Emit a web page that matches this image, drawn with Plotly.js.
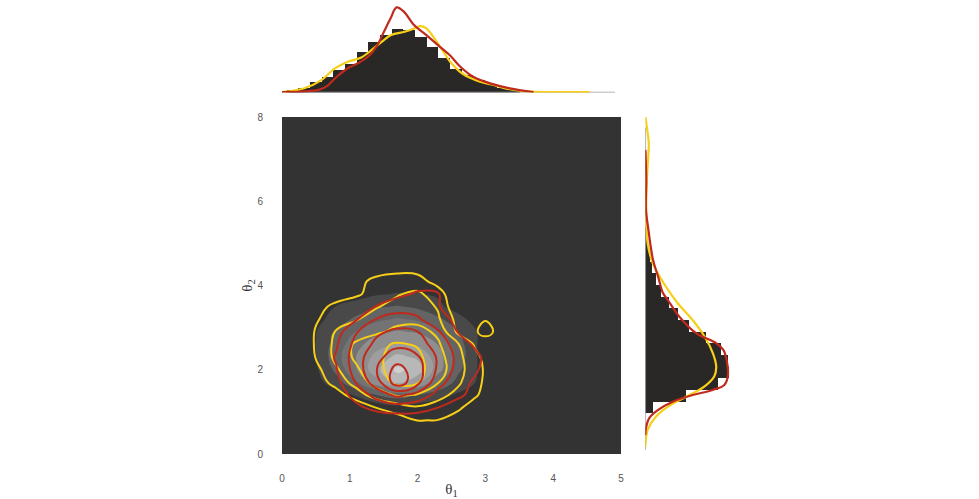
<!DOCTYPE html>
<html>
<head>
<meta charset="utf-8">
<script src="https://cdn.plot.ly/plotly-3.0.1.min.js"></script>
<style>html,body{margin:0;padding:0;background:#fff;}#chart{width:979px;height:499px;}</style>
</head>
<body>
<div id="chart"></div>
<script>
// ---------- data ----------
const xTicks = [0, 1, 2, 3, 4, 5];
const yTicks = [0, 2, 4, 6, 8];

// density grid (theta1 along x, theta2 along y)
const gridX = [0.2, 0.5, 0.8, 1.1, 1.4, 1.7, 2.0, 2.3, 2.6, 2.9, 3.2];
const gridY = [0.5, 0.8, 1.1, 1.4, 1.7, 2.0, 2.3, 2.6, 2.9, 3.2, 3.5, 3.8, 4.1, 4.4, 4.7];
const yellowGridX = [0.2, 0.5, 0.8, 1.1, 1.4, 1.7, 2.0, 2.3, 2.6, 2.85, 3.0, 3.15, 3.4];

// grey filled density (levels 1..7)
const greyZ = [
  [0,0,0,0,0,0,0,0,0,0,0],
  [0,0,0,0,0,0.1,0.05,0,0,0,0],
  [0,0,0,0.13,0.4,0.65,0.5,0.35,0.2,0,0],
  [0,0,0.45,1.12,2.02,2.47,2.0,1.4,0.85,0.2,0],
  [0,0.6,1.56,2.89,4.6,6.26,5.31,3.0,1.63,0.87,0],
  [0,0.83,2.25,3.95,5.75,7.25,6.52,4.47,2.21,0.9,0],
  [0,0.98,2.62,4.05,5.38,6.25,5.83,4.47,2.61,0.9,0],
  [0,1.03,2.45,3.68,4.59,5.14,4.86,3.98,2.44,0.9,0],
  [0,0.97,2.04,3.07,3.72,4.11,3.88,3.13,2.0,0.9,0],
  [0,0.63,1.49,2.21,2.79,3.09,2.85,2.21,1.39,0.43,0],
  [0,0.07,1.03,1.44,1.85,2.07,1.80,1.27,0.5,0,0],
  [0,0,0.3,0.55,0.9,1.05,1.05,0.85,0.3,0,0],
  [0,0,0,0.1,0.3,0.4,0.4,0.3,0,0,0],
  [0,0,0,0,0,0,0,0,0,0,0],
  [0,0,0,0,0,0,0,0,0,0,0]
];

// red density contours (levels 1..5)
const redZ = [
  [0,0,0,0,0,0,0,0,0,0,0],
  [0,0,0,0.05,0.3,0.45,0.45,0.3,0.05,0,0],
  [0,0,0.2,0.8,1.3,1.48,1.38,1.0,0.45,0,0],
  [0,0,0.5,1.34,2.39,3.25,2.61,1.68,1.21,0.53,0],
  [0,0,0.68,2.09,3.59,5.6,4.29,2.33,1.45,0.70,0],
  [0,0.11,0.93,2.50,4.0,5.4,4.43,2.82,1.67,1.0,0.06],
  [0,0.23,1.10,2.57,3.76,4.49,4.12,2.88,1.74,1.10,0.18],
  [0,0.13,0.88,2.37,3.24,3.80,3.41,2.61,1.52,0.70,0],
  [0,0,0.57,1.95,2.83,3.22,3.02,2.11,0.94,0.31,0],
  [0,0,0.23,0.93,2.06,2.41,2.12,1.44,0.71,0.1,0],
  [0,0,0.1,0.55,1.05,1.55,1.6,1.05,0.55,0.15,0],
  [0,0,0,0,0.3,0.75,1.12,1.05,0.4,0,0],
  [0,0,0,0,0,0.3,0.55,0.5,0.1,0,0],
  [0,0,0,0,0,0,0.1,0.1,0,0,0],
  [0,0,0,0,0,0,0,0,0,0,0]
];

// yellow density contours (levels 1..4)
const yellowZ = [
  [0,0,0,0,0,0.1,0.3,0.3,0.1,0,0,0,0],
  [0,0,0,0,0.15,0.55,1.02,0.98,0.6,0.15,0.05,0,0],
  [0,0,0,0.26,1.03,1.46,1.89,1.58,1.14,0.57,0.14,0,0],
  [0,0,0.53,1.55,2.5,3.15,2.9,2.33,1.7,1.12,0.71,0.29,0],
  [0,0.43,1.4,2.41,3.44,4.25,4.1,3.05,2.15,1.31,0.83,0.42,0],
  [0,0.69,1.86,2.84,3.83,4.31,4.29,3.47,2.35,1.43,0.86,0.43,0],
  [0.1,1.05,2.26,3.22,3.87,4.26,4.21,3.37,2.28,1.27,0.74,0.29,0],
  [0.1,1.1,2.26,3.19,3.77,4.12,3.92,3.13,2.07,0.85,0.45,0.2,0],
  [0.1,1.08,2.09,2.46,2.83,3.26,3.32,2.83,0.75,0.9,1.3,0.9,0],
  [0.05,0.91,1.45,1.95,2.33,2.69,2.74,2.16,0.6,0.6,0.95,0.6,0],
  [0,0.69,1.23,1.59,1.95,2.26,2.56,1.9,0.1,0,0.05,0,0],
  [0,0.35,0.55,0.85,1.4,1.93,2.19,1.5,0,0,0,0,0],
  [0,0,0.2,0.75,1.25,1.4,1.4,0.6,0,0,0,0,0],
  [0,0,0,0.3,0.6,0.75,0.65,0.2,0,0,0,0,0],
  [0,0,0,0,0.1,0.2,0.1,0,0,0,0,0,0]
];

// top marginal: histogram of theta1 (left bin edges, density)
const topBinLeft = [0.07,0.242,0.414,0.586,0.758,0.93,1.102,1.274,1.446,1.618,1.79,1.962,2.134,2.306,2.478,2.65,2.822,2.994,3.166,3.338];
const topBinDensity = [0.03,0.05,0.11,0.16,0.23,0.29,0.42,0.52,0.59,0.65,0.64,0.57,0.47,0.35,0.24,0.18,0.13,0.09,0.05,0.03];
const topBinWidth = 0.172;

// top marginal KDE curves
const redTopX = [0.0,0.35,0.55,0.65,0.82,0.97,1.12,1.27,1.40,1.50,1.60,1.69,1.80,1.94,2.13,2.33,2.48,2.63,2.82,3.07,3.36,3.71];
const redTopY = [0.005,0.012,0.03,0.06,0.17,0.25,0.30,0.37,0.48,0.62,0.76,0.875,0.83,0.70,0.59,0.47,0.38,0.265,0.162,0.094,0.043,0.005];
const yellowTopX = [0.0,0.33,0.58,0.78,0.97,1.17,1.32,1.47,1.61,1.81,1.96,2.04,2.13,2.23,2.38,2.48,2.67,2.92,3.12,3.36,3.66,4.0,4.54];
const yellowTopY = [0.003,0.043,0.128,0.248,0.317,0.36,0.437,0.522,0.591,0.625,0.66,0.683,0.66,0.574,0.42,0.317,0.19,0.111,0.077,0.033,0.008,0.004,0.003];
const greyTopX = [0.0, 4.91];
const greyTopY = [0, 0];

// right marginal: histogram of theta2 (lower bin edges, density)
const rightBinBottom = [0.967,1.244,1.521,1.798,2.075,2.352,2.629,2.906,3.183,3.46,3.737,4.014,4.291,4.568,4.845,5.122];
const rightBinDensity = [0.047,0.258,0.459,0.533,0.523,0.48,0.385,0.279,0.206,0.152,0.1,0.068,0.044,0.032,0.019,0.013];
const rightBinWidth = 0.277;

// right marginal KDE curves
const redRightY = [0.45,0.61,0.85,1.04,1.24,1.40,1.52,1.64,1.84,2.23,2.47,2.63,2.87,3.26,3.66,3.82,4.21,4.61,5.40,5.80,6.5,7.22];
const redRightX = [0.0,0.004,0.025,0.079,0.174,0.301,0.428,0.501,0.523,0.516,0.495,0.449,0.322,0.216,0.142,0.112,0.081,0.049,0.017,0.004,0.006,0.001];
const yellowRightY = [0.17,0.57,0.89,1.12,1.36,1.60,1.84,2.07,2.39,2.79,3.18,3.58,3.97,4.37,4.53,5.0,5.8,6.59,7.38,7.7,8.01];
const yellowRightX = [0.0,0.015,0.068,0.142,0.258,0.374,0.437,0.45,0.429,0.376,0.30,0.206,0.131,0.068,0.047,0.015,0.006,0.011,0.022,0.012,0.0];
const greyRightY = [0.1, 7.75];
const greyRightX = [0, 0];

// ---------- style ----------
const RED = '#bf2a1d';
const YELLOW = '#f6cf16';
const HIST = '#2a2727';
const BG = '#333333';
const GREYLINE = '#9a9a9a';

const greyScale = [
  [0, BG], [0.1428, BG],
  [0.1429, '#5a5a5a'], [0.2856, '#5a5a5a'],
  [0.2858, '#6c6c6c'], [0.4285, '#6c6c6c'],
  [0.4287, '#808080'], [0.5713, '#808080'],
  [0.5715, '#959595'], [0.7142, '#959595'],
  [0.7144, '#aaaaaa'], [0.8570, '#aaaaaa'],
  [0.8572, '#bebebe'], [1, '#d0d0d0']
];

const traces = [
  {type:'contour', x:gridX, y:gridY, z:greyZ, xaxis:'x', yaxis:'y',
   contours:{coloring:'fill', start:1, end:7, size:1, showlines:false},
   line:{width:0, smoothing:1.3}, colorscale:greyScale, showscale:false, hoverinfo:'skip'},
  {type:'contour', x:yellowGridX, y:gridY, z:yellowZ, xaxis:'x', yaxis:'y',
   contours:{coloring:'lines', start:1, end:4, size:1},
   line:{width:2, smoothing:1.3}, colorscale:[[0,YELLOW],[1,YELLOW]], showscale:false, hoverinfo:'skip'},
  {type:'contour', x:gridX, y:gridY, z:redZ, xaxis:'x', yaxis:'y',
   contours:{coloring:'lines', start:1, end:5, size:1},
   line:{width:2, smoothing:1.3}, colorscale:[[0,RED],[1,RED]], showscale:false, hoverinfo:'skip'},

  // top marginal
  {type:'scatter', mode:'lines', x:greyTopX, y:greyTopY, xaxis:'x2', yaxis:'y2',
   line:{color:GREYLINE, width:1.5}, hoverinfo:'skip'},
  {type:'bar', x:topBinLeft, y:topBinDensity, offset:0, width:topBinWidth, xaxis:'x2', yaxis:'y2',
   marker:{color:HIST, line:{width:0}}, hoverinfo:'skip'},
  {type:'scatter', mode:'lines', x:yellowTopX, y:yellowTopY, xaxis:'x2', yaxis:'y2',
   line:{color:YELLOW, width:2.2, shape:'spline', smoothing:1}, hoverinfo:'skip'},
  {type:'scatter', mode:'lines', x:redTopX, y:redTopY, xaxis:'x2', yaxis:'y2',
   line:{color:RED, width:2.2, shape:'spline', smoothing:1}, hoverinfo:'skip'},

  // right marginal
  {type:'scatter', mode:'lines', x:greyRightX, y:greyRightY, xaxis:'x3', yaxis:'y3',
   line:{color:GREYLINE, width:1.5}, hoverinfo:'skip'},
  {type:'bar', orientation:'h', y:rightBinBottom, x:rightBinDensity, offset:0, width:rightBinWidth, xaxis:'x3', yaxis:'y3',
   marker:{color:HIST, line:{width:0}}, hoverinfo:'skip'},
  {type:'scatter', mode:'lines', x:yellowRightX, y:yellowRightY, xaxis:'x3', yaxis:'y3',
   line:{color:YELLOW, width:2.2, shape:'spline', smoothing:1}, hoverinfo:'skip'},
  {type:'scatter', mode:'lines', x:redRightX, y:redRightY, xaxis:'x3', yaxis:'y3',
   line:{color:RED, width:2.2, shape:'spline', smoothing:1}, hoverinfo:'skip'}
];

const tickFont = {family:'Liberation Sans, Arial, sans-serif', size:10, color:'#555555'};
const titleFont = {family:'Liberation Serif, Times New Roman, serif', size:15, color:'#333333'};

const layout = {
  width:979, height:499,
  margin:{l:0, r:0, t:0, b:0},
  paper_bgcolor:'#ffffff', plot_bgcolor:'rgba(0,0,0,0)',
  showlegend:false,
  bargap:0,
  xaxis:{domain:[282/979, 621/979], range:[0,5], anchor:'y', tickvals:xTicks, ticktext:xTicks.map(String),
    showgrid:false, zeroline:false, showline:false, ticks:'outside', ticklen:15, tickcolor:'rgba(0,0,0,0)',
    tickfont:tickFont, title:{text:'θ<sub>1</sub>', font:titleFont, standoff:1}, fixedrange:true},
  yaxis:{domain:[45/499, 382/499], range:[0,8], anchor:'x', tickvals:yTicks, ticktext:yTicks.map(String),
    showgrid:false, zeroline:false, showline:false, ticks:'outside', ticklen:16, tickcolor:'rgba(0,0,0,0)',
    tickfont:tickFont, title:{text:'θ<sub>2</sub>', font:titleFont, standoff:1}, fixedrange:true},
  xaxis2:{domain:[282/979, 621/979], range:[0,5], anchor:'y2', visible:false, fixedrange:true},
  yaxis2:{domain:[406.5/499, 494/499], range:[0,0.9], anchor:'x2', visible:false, fixedrange:true},
  xaxis3:{domain:[645.3/979, 735/979], range:[0,0.569], anchor:'y3', visible:false, fixedrange:true},
  yaxis3:{domain:[45/499, 382/499], range:[0,8], anchor:'x3', visible:false, fixedrange:true},
  shapes:[{type:'rect', xref:'x', yref:'y', x0:0, x1:5, y0:0, y1:8, fillcolor:BG, line:{width:0}, layer:'below'}]
};

Plotly.newPlot('chart', traces, layout, {staticPlot:true, displayModeBar:false});
</script>
</body>
</html>
